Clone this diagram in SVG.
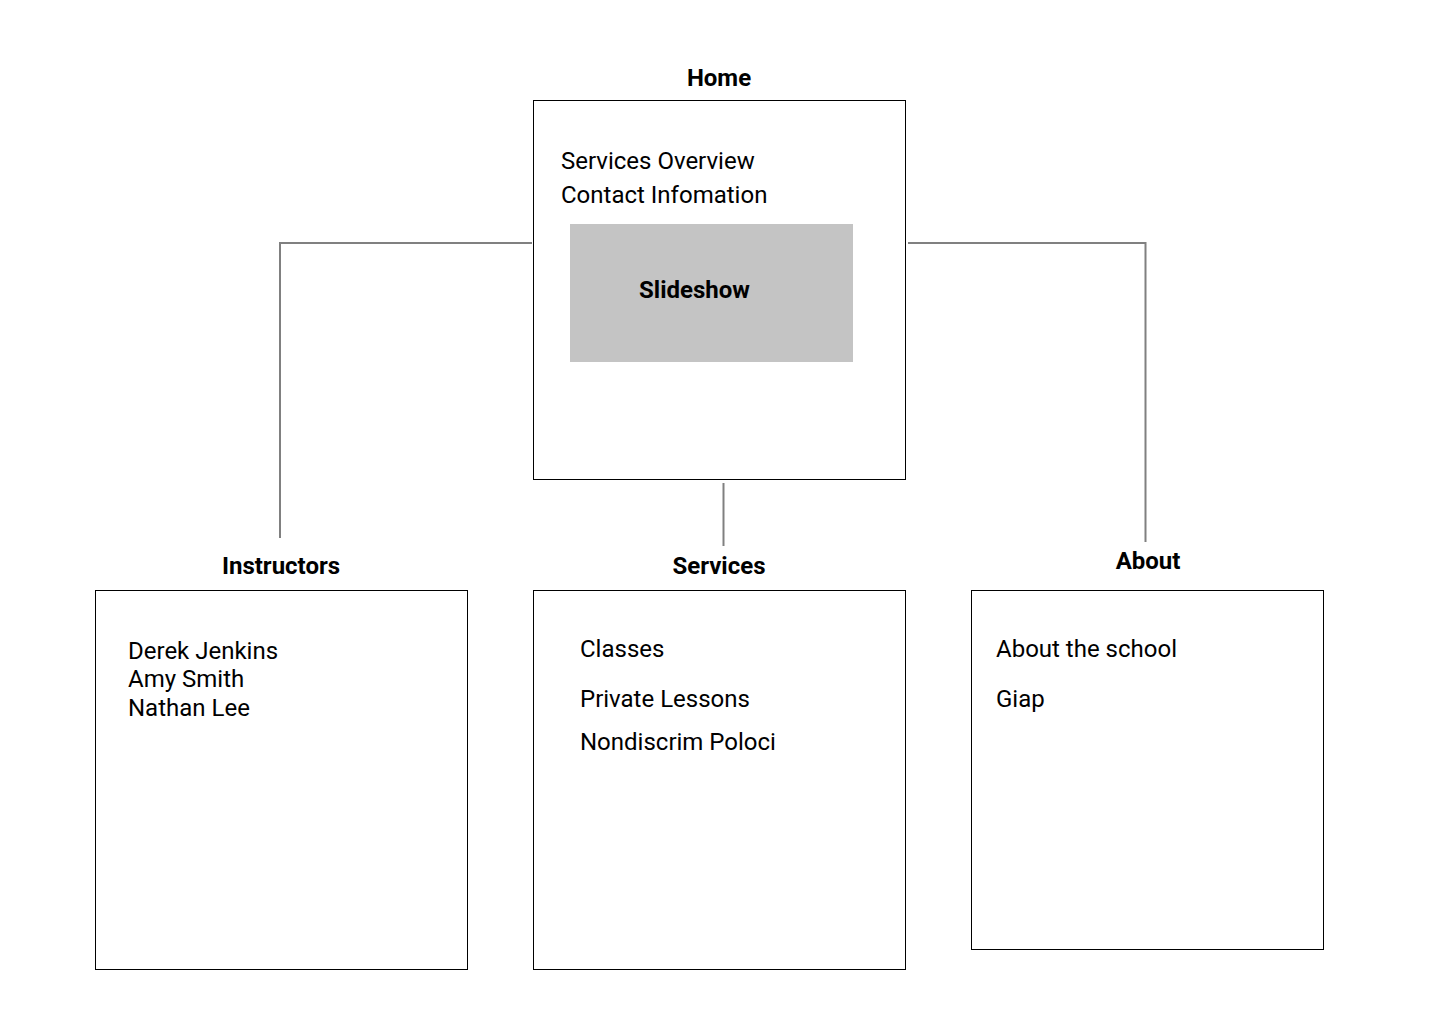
<svg xmlns="http://www.w3.org/2000/svg" width="1440" height="1024" viewBox="0 0 1440 1024">
<style>
.box{fill:#fff;stroke:#000;stroke-width:1}
.t{font-family:Roboto,"Liberation Sans",sans-serif;font-size:24px;fill:#000}
.b{font-family:Roboto,"Liberation Sans",sans-serif;font-size:24px;font-weight:bold;fill:#000}
.c{fill:none;stroke:#808080;stroke-width:2}
</style>
<rect width="1440" height="1024" fill="#fff"/>
<g id="connectors">
<path class="c" d="M532 243 H280 V538"/>
<path class="c" d="M908 243 H1145.5 V542"/>
<path class="c" d="M723.5 483 V546"/>
</g>
<g id="home">
<text class="b" x="719" y="86" text-anchor="middle">Home</text>
<rect class="box" x="533.5" y="100.5" width="372" height="379"/>
<text class="t" x="561" y="169">Services Overview</text>
<text class="t" x="561" y="203">Contact Infomation</text>
<rect x="570" y="224" width="283" height="138" fill="#c4c4c4"/>
<text class="b" x="639" y="298">Slideshow</text>
</g>
<g id="instructors">
<text class="b" x="281" y="574" text-anchor="middle">Instructors</text>
<rect class="box" x="95.5" y="590.5" width="372" height="379"/>
<text class="t" x="128" y="659">Derek Jenkins</text>
<text class="t" x="128" y="687">Amy Smith</text>
<text class="t" x="128" y="716">Nathan Lee</text>
</g>
<g id="services">
<text class="b" x="719" y="574" text-anchor="middle">Services</text>
<rect class="box" x="533.5" y="590.5" width="372" height="379"/>
<text class="t" x="580" y="657">Classes</text>
<text class="t" x="580" y="707">Private Lessons</text>
<text class="t" x="580" y="750">Nondiscrim Poloci</text>
</g>
<g id="about">
<text class="b" x="1148" y="569" text-anchor="middle">About</text>
<rect class="box" x="971.5" y="590.5" width="352" height="359"/>
<text class="t" x="996" y="657">About the school</text>
<text class="t" x="996" y="707">Giap</text>
</g>
</svg>
